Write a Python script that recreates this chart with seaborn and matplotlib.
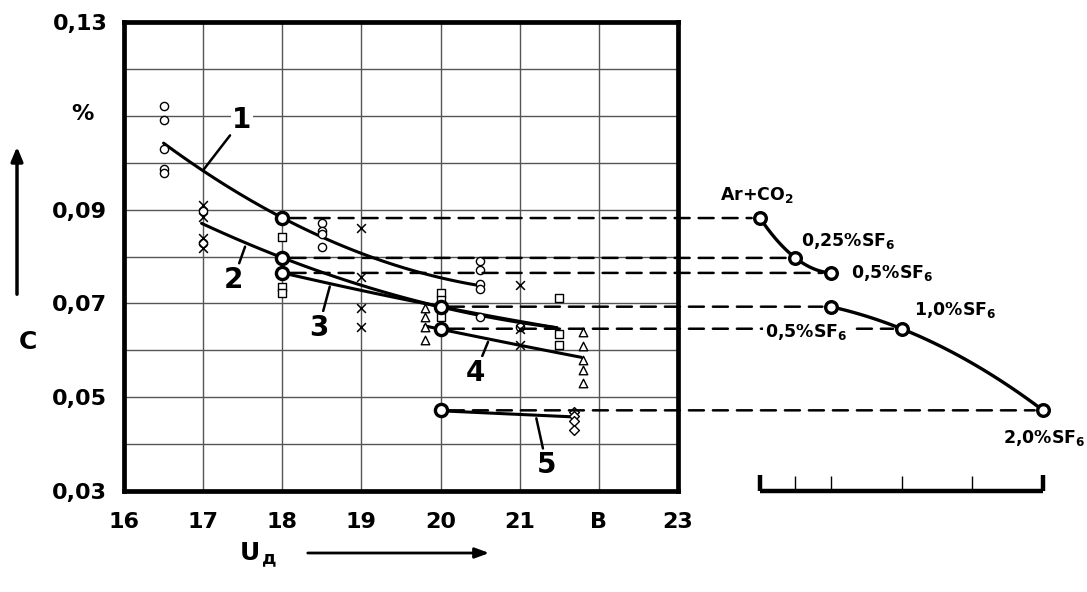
import numpy as np
import pandas as pd
import matplotlib
matplotlib.use("Agg")
import matplotlib.pyplot as plt
import seaborn as sns
from matplotlib.patches import ConnectionPatch, FancyArrowPatch

sns.set_style("white")
plt.rcParams['font.family'] = ['DejaVu Sans']
plt.rcParams['mathtext.fontset'] = 'dejavusans'
plt.rcParams['text.color'] = 'black'
plt.rcParams['xtick.color'] = 'black'
plt.rcParams['ytick.color'] = 'black'
plt.rcParams['xtick.labelcolor'] = 'black'
plt.rcParams['ytick.labelcolor'] = 'black'

# ---------------- data ----------------
x_ticks = [16, 17, 18, 19, 20, 21, 22, 23]
x_tick_labels = ['16', '17', '18', '19', '20', '21', 'В', '23']
y_ticks = [0.03, 0.04, 0.05, 0.06, 0.07, 0.08, 0.09, 0.10, 0.11, 0.12, 0.13]
y_tick_labels = ['0,03', '', '0,05', '', '0,07', '', '0,09', '', '', '', '0,13']

# experimental points
circ_x = [16.5]*5 + [17]*2 + [18.5]*4 + [20.5]*5 + [21]
circ_y = [0.1121, 0.1090, 0.1029, 0.0986, 0.0977,
          0.0898, 0.0828,
          0.0871, 0.0855, 0.0849, 0.0821,
          0.0791, 0.0771, 0.0741, 0.0730, 0.0672,
          0.0650]
cross_x = [17]*4 + [19]*4 + [21]*3
cross_y = [0.0910, 0.0885, 0.0840, 0.0818,
           0.0860, 0.0757, 0.0690, 0.0650,
           0.0739, 0.0645, 0.0612]
sq_x = [18]*3 + [20]*3 + [21.5]*3
sq_y = [0.0842, 0.0735, 0.0723,
        0.0722, 0.0708, 0.0672,
        0.0711, 0.0635, 0.0612]
tri_x = [19.8]*4 + [21.8]*5
tri_y = [0.0690, 0.0672, 0.0650, 0.0622,
         0.0640, 0.0609, 0.0579, 0.0559, 0.0530]
dia_x = [21.68]*4
dia_y = [0.0469, 0.0460, 0.0450, 0.0430]

# fitted curves 1-5
c1_x = [16.5, 17.0, 18.0, 20.46]
c1_y = [0.1041, 0.0984, 0.0882, 0.0739]
c2_x = [16.98, 18.0, 20.0, 21.47]
c2_y = [0.0871, 0.0797, 0.0693, 0.0648]
c3_x = [18.0, 18.22, 20.0, 21.47]
c3_y = [0.0765, 0.0757, 0.0693, 0.0648]
c4_x = [19.8, 20.0, 21.78]
c4_y = [0.0652, 0.0645, 0.0585]
c5_x = [20.0, 21.68]
c5_y = [0.0471, 0.0458]

# key points (big circles) and their projection on SF6 scale
key_x = [18, 18, 18, 20, 20, 20]
key_y = [0.0882, 0.0797, 0.0765, 0.0693, 0.0646, 0.0472]
sf6_x = [0.0, 0.25, 0.5, 0.5, 1.0, 2.0]
sf6_labels = [r'Ar+CO$_\mathbf{2}$', r'0,25%SF$_\mathbf{6}$', r'0,5%SF$_\mathbf{6}$',
              r'0,5%SF$_\mathbf{6}$', r'1,0%SF$_\mathbf{6}$', r'2,0%SF$_\mathbf{6}$']
sf6_label_pos = [(-0.02, 0.0932), (0.622, 0.0832), (0.933, 0.0764),
                 (0.33, 0.0640), (1.378, 0.0686), (2.007, 0.0412)]
sf6_scale_ticks = [0.0, 0.25, 0.5, 1.0, 1.5, 2.0]

curve_labels = ['1', '2', '3', '4', '5']
curve_label_text = [(17.49, 0.1091), (17.38, 0.0750), (18.46, 0.0648), (20.44, 0.0552), (21.34, 0.0355)]
curve_label_tip = [(17.00, 0.0984), (17.53, 0.0821), (18.60, 0.0736), (20.60, 0.0618), (21.21, 0.0455)]

# ---------------- figure ----------------
W, H = 1087, 592
fig = plt.figure(figsize=(W/100, H/100), dpi=100)
ax1 = fig.add_axes([124/W, 1-491/H, (678-124)/W, (491-22)/H])
ax2 = fig.add_axes([760/W, 1-491/H, 283/W, (491-22)/H], sharey=ax1)

ax1.set_xlim(16, 23)
ax1.set_ylim(0.03, 0.13)
ax1.set_xticks(x_ticks)
ax1.set_xticklabels(x_tick_labels, fontsize=16, fontweight='bold', color='black')
ax1.set_yticks(y_ticks)
ax1.set_yticklabels(y_tick_labels, fontsize=16, fontweight='bold', color='black')
ax1.tick_params(length=0, pad=15)
ax1.tick_params(axis='y', pad=12)
ax1.grid(True, color='#555555', lw=1.0)
ax1.set_axisbelow(True)
for sp in ax1.spines.values():
    sp.set_linewidth(3.4)
    sp.set_color('black')

# curves
for cx, cy, order in [(c1_x, c1_y, 2), (c2_x, c2_y, 2), (c3_x, c3_y, 2),
                      (c4_x, c4_y, 2), (c5_x, c5_y, 1)]:
    sns.regplot(x=np.array(cx), y=np.array(cy), order=order, ci=None, scatter=False,
                ax=ax1, color='black', line_kws=dict(lw=2.2, zorder=3))
ax1.set_xlabel('')
ax1.set_ylabel('')

# experimental markers
ms = 5
sns.scatterplot(x=circ_x, y=circ_y, ax=ax1, marker='o', s=ms**2*1.4,
                facecolor='white', edgecolor='black', linewidth=1.0, zorder=4)
sns.scatterplot(x=cross_x, y=cross_y, ax=ax1, marker='x', s=ms**2*1.6,
                color='black', linewidth=1.1, zorder=4)
sns.scatterplot(x=sq_x, y=sq_y, ax=ax1, marker='s', s=ms**2*1.2,
                facecolor='white', edgecolor='black', linewidth=1.0, zorder=4)
sns.scatterplot(x=tri_x, y=tri_y, ax=ax1, marker='^', s=ms**2*1.5,
                facecolor='white', edgecolor='black', linewidth=1.0, zorder=4)
sns.scatterplot(x=dia_x, y=dia_y, ax=ax1, marker='D', s=ms**2*1.0,
                facecolor='white', edgecolor='black', linewidth=1.0, zorder=4)
sns.scatterplot(x=key_x, y=key_y, ax=ax1, marker='o', s=8**2*1.2,
                facecolor='white', edgecolor='black', linewidth=2.4, zorder=6)

for lab, tp, tip in zip(curve_labels, curve_label_text, curve_label_tip):
    ax1.annotate(lab, xy=tip, xytext=tp, ha='center', va='center',
                 fontsize=20, fontweight='bold', zorder=7, color='black',
                 bbox=dict(fc='white', ec='none', pad=1.0),
                 arrowprops=dict(arrowstyle='-', lw=1.8, color='black',
                                 shrinkA=1, shrinkB=0))

# dashed projection lines (drawn with ax1 so ax2 content sits on top)
for xm, xr, yv in zip(key_x, sf6_x, key_y):
    con = ConnectionPatch(xyA=(xm, yv), coordsA=ax1.transData,
                          xyB=(xr, yv), coordsB=ax2.transData,
                          linestyle=(0, (6, 3.6)), lw=1.8, color='black',
                          shrinkA=6, shrinkB=6, zorder=5)
    con.set_clip_on(False)
    ax1.add_artist(con)

# ---------------- right SF6 diagram ----------------
ax2.set_xlim(0, 2)
ax2.axis('off')
up = slice(0, 3)
lo = slice(3, 6)
sns.regplot(x=np.array(sf6_x[up]), y=np.array(key_y[up]), order=2, ci=None, scatter=False,
            ax=ax2, color='black', line_kws=dict(lw=2.4, clip_on=False))
sns.regplot(x=np.array(sf6_x[lo]), y=np.array(key_y[lo]), order=2, ci=None, scatter=False,
            ax=ax2, color='black', line_kws=dict(lw=2.4, clip_on=False))
sns.scatterplot(x=sf6_x, y=key_y, ax=ax2, marker='o', s=8**2*1.1,
                facecolor='white', edgecolor='black', linewidth=2.4, zorder=6,
                clip_on=False)
for i, (lab, (tx, ty)) in enumerate(zip(sf6_labels, sf6_label_pos)):
    kw = {}
    if i == 3:
        kw['bbox'] = dict(fc='white', ec='none', pad=2.0)
    ax2.text(tx, ty, lab, ha='center', va='center', fontsize=12.5,
             fontweight='bold', color='black', clip_on=False, **kw)

# scale bar
ax2.plot([sf6_scale_ticks[0], sf6_scale_ticks[-1]], [0.03, 0.03], color='black',
         lw=3.2, solid_capstyle='butt', clip_on=False)
for i, t in enumerate(sf6_scale_ticks):
    end = i in (0, len(sf6_scale_ticks) - 1)
    ax2.plot([t, t], [0.03, 0.0335 if end else 0.0332], color='black',
             lw=3.2 if end else 1.0, solid_capstyle='butt', clip_on=False)

# axis titles
fig.text(82/W, 1-114/H, '%', ha='center', va='center', fontsize=16,
         fontweight='bold', color='black')
fig.text(28/W, 1-342/H, 'C', ha='center', va='center', fontsize=18,
         fontweight='bold', color='black')
fig.add_artist(FancyArrowPatch(
    (17/W, 1-297/H), (17/W, 1-144/H), transform=fig.transFigure,
    arrowstyle='-|>,head_length=0.6,head_width=0.25', lw=2.5, color='black',
    mutation_scale=14))
fig.text(250/W, 1-553/H, 'U', ha='center', va='center', fontsize=18,
         fontweight='bold', color='black')
fig.text(269/W, 1-558/H, 'д', ha='center', va='center', fontsize=13,
         fontweight='bold', color='black')
fig.add_artist(FancyArrowPatch(
    (305/W, 1-553/H), (492/W, 1-553/H), transform=fig.transFigure,
    arrowstyle='-|>,head_length=0.6,head_width=0.22', lw=2.0, color='black',
    mutation_scale=14))

fig.savefig('out.png', dpi=100)
